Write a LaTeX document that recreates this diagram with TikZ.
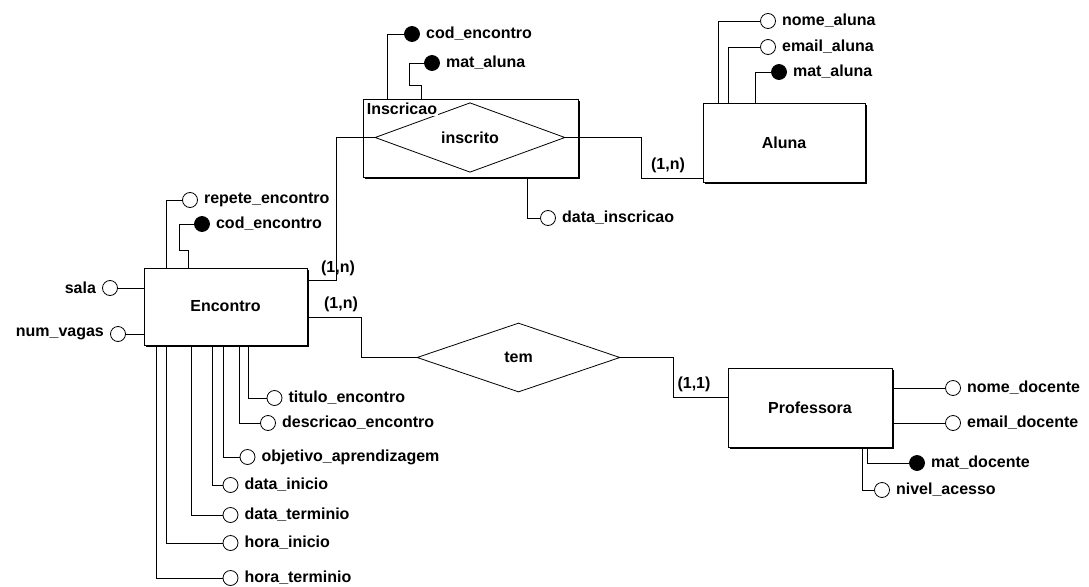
\documentclass[tikz,border=0pt]{standalone}
\usepackage{fontspec}
\setmainfont{Liberation Sans}
\usetikzlibrary{shapes.geometric,shadows}

\tikzstyle{entity}=[draw,fill=white,line width=0.8pt,minimum width=163pt,minimum height=77pt,general shadow={fill=black,shadow xshift=2pt,shadow yshift=-2pt}]
\tikzstyle{rel}=[draw,diamond,fill=white,line width=0.8pt,inner sep=0pt]
\tikzstyle{attr}=[draw,circle,fill=white,line width=0.8pt,minimum size=15pt,inner sep=0pt]
\tikzstyle{pkey}=[attr,fill=black]
\tikzstyle{lbl}=[inner sep=1pt,label distance=5pt]
\tikzstyle{link}=[draw,line width=0.8pt,-]
\tikzstyle{card}=[inner sep=1pt]
\newcommand{\erfont}{\fontsize{16}{18}\selectfont\bfseries}

\begin{document}
\begin{tikzpicture}[x=1pt, y=-1pt, font=\erfont]
    \useasboundingbox (0,0) rectangle (1089,586);
    % First the entities and relationships
    \node[entity] (Encontro) at (225.5,306.5) {Encontro};
    \node[entity, minimum width=162pt, minimum height=79pt] (Aluna) at (784,142.5) {Aluna};
    \node[entity, minimum width=164pt, minimum height=79pt] (Professora) at (810,407.5) {Professora};
    \node[entity, minimum width=215pt, minimum height=78pt] (Inscricao) at (470.5,138) {};
    \node[rel, minimum width=190pt, minimum height=55pt] (inscrito) at (470,137.5) {inscrito};
    \node[rel, minimum width=203pt, minimum height=69pt] (tem) at (518.5,357.5) {tem};
    \node[anchor=north west, inner sep=1pt, fill=white] (Inscricao-l) at ([xshift=3pt,yshift=-3pt]Inscricao.north west) {Inscricao};

    % Then the attributes
    \foreach \pos/\name/\txt/\side in {{(548,218)/idata/data\_inscricao/right},
        {(768,21)/anome/nome\_aluna/right}, {(768,47)/aemail/email\_aluna/right},
        {(190,200)/erep/repete\_encontro/right}, {(110,288)/esala/sala/left}, {(118,334)/evagas/num\_vagas/left},
        {(274.5,398)/etit/titulo\_encontro/right}, {(268,423)/edesc/descricao\_encontro/right},
        {(247.5,457)/eobj/objetivo\_aprendizagem/right}, {(230.5,485)/edi/data\_inicio/right},
        {(230.5,515)/edt/data\_terminio/right}, {(230.5,543)/ehi/hora\_inicio/right},
        {(230.5,578)/eht/hora\_terminio/right},
        {(953,388)/pnome/nome\_docente/right}, {(953,423)/pemail/email\_docente/right},
        {(882,490)/pnivel/nivel\_acesso/right}}
        \node[attr, label={[lbl]\side:\txt}] (\name) at \pos {};
    \foreach \pos/\name/\txt in {{(412,34)/icod/cod\_encontro}, {(432,63)/imat/mat\_aluna},
        {(779,72)/amat/mat\_aluna}, {(202,224)/ecod/cod\_encontro}, {(917,463)/pmat/mat\_docente}}
        \node[pkey, label={[lbl]right:\txt}] (\name) at \pos {};

    % Connect entities with relationships and write cardinalities
    \path[link] ([yshift=26.5pt]Encontro.east) -- ++(29,0) |- (inscrito.west);
    \path[link] ([yshift=-10.5pt]Encontro.east) -- ++(54,0) |- (tem.west);
    \path[link] (tem.east) -- ++(53,0) |- ([yshift=10.5pt]Professora.west);
    \path[link] (inscrito.east) -- ++(76,0) |- ([yshift=-35.5pt]Aluna.west);
    \node[card] (c1) at (338,268) {(1,n)};
    \node[card] (c2) at (341,304) {(1,n)};
    \node[card] (c3) at (694,384) {(1,1)};
    \node[card] (c4) at (668,165) {(1,n)};

    % Attribute links
    \path[link] (icod.west) -| ([xshift=-83.5pt]Inscricao.north);
    \path[link] (imat.west) -- ++(-14.5,0) |- ([xshift=-49.5pt,yshift=13pt]Inscricao.north) -- ([xshift=-49.5pt]Inscricao.north);
    \path[link] ([xshift=56.5pt]Inscricao.south) |- (idata.west);
    \foreach \name/\dx in {anome/-66, aemail/-56, amat/-29}
        \path[link] (\name.west) -| ([xshift=\dx pt]Aluna.north);
    \path[link] (erep.west) -| ([xshift=-59.5pt]Encontro.north);
    \path[link] (ecod.west) -- ++(-14.5,0) |- ([xshift=-37.5pt,yshift=17pt]Encontro.north) -- ([xshift=-37.5pt]Encontro.north);
    \foreach \name in {esala, evagas}
        \path[link] (\name.east) -- (Encontro.west |- \name);
    \foreach \name/\dx in {etit/22.5, edesc/13.5, eobj/-2.5, edi/-13.5, edt/-34.5, ehi/-59.5, eht/-69.5}
        \path[link] ([xshift=\dx pt]Encontro.south) |- (\name.west);
    \foreach \name in {pnome, pemail}
        \path[link] (Professora.east |- \name) -- (\name.west);
    \path[link] ([xshift=57pt]Professora.south) |- (pmat.west);
    \path[link] ([xshift=52pt]Professora.south) |- (pnivel.west);
\end{tikzpicture}
\end{document}
